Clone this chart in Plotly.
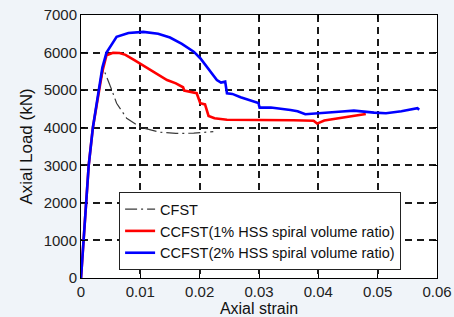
import plotly.graph_objects as go

# CFST
cfst_strain = [0, 0.0004, 0.0008, 0.0013, 0.002, 0.003, 0.0038, 0.0046, 0.0052, 0.006, 0.0077, 0.01, 0.0133, 0.016, 0.019, 0.0223]
cfst_load = [0, 1000, 2000, 3000, 4000, 5000, 5560, 5250, 5000, 4652, 4250, 4013, 3880, 3850, 3854, 3897]

# CCFST 1%
c1_strain = [0, 0.0004, 0.0008, 0.0013, 0.002, 0.003, 0.0036, 0.0043, 0.0054, 0.0065, 0.0075, 0.009, 0.01, 0.012,
             0.0145, 0.016, 0.0172, 0.0174, 0.0195, 0.0201, 0.0209, 0.0215, 0.0225, 0.0246, 0.0302, 0.0358, 0.0392,
             0.0398, 0.041, 0.044, 0.047, 0.048]
c1_load = [0, 1000, 2000, 3000, 4000, 5000, 5500, 5930, 5995, 5990, 5940, 5800, 5700, 5500,
           5270, 5180, 5077, 4990, 4918, 4652, 4620, 4314, 4250, 4210, 4215, 4200, 4185,
           4110, 4190, 4260, 4330, 4367]

# CCFST 2%
c2_strain = [0, 0.0004, 0.0008, 0.0013, 0.002, 0.003, 0.0036, 0.0043, 0.006, 0.008, 0.0105, 0.013, 0.015, 0.017,
             0.019, 0.0201, 0.0215, 0.0229, 0.0236, 0.0243, 0.0246, 0.0255, 0.0269, 0.0285, 0.0299, 0.0301, 0.032,
             0.0353, 0.0365, 0.0378, 0.04, 0.0415, 0.044, 0.046, 0.048, 0.0494, 0.0514, 0.054, 0.0567, 0.057]
c2_load = [0, 1000, 2000, 3000, 4000, 5000, 5600, 6000, 6420, 6520, 6550, 6500, 6400, 6230,
           6024, 5850, 5550, 5270, 5200, 5226, 4918, 4900, 4811, 4740, 4660, 4535, 4540,
           4473, 4440, 4360, 4380, 4412, 4430, 4455, 4420, 4402, 4386, 4440, 4519, 4480]

names = ["CFST", "CCFST(1% HSS spiral volume ratio)", "CCFST(2% HSS spiral volume ratio)"]
x_ticks = [0, 0.01, 0.02, 0.03, 0.04, 0.05, 0.06]
x_tick_labels = ["0", "0.01", "0.02", "0.03", "0.04", "0.05", "0.06"]
y_ticks = [0, 1000, 2000, 3000, 4000, 5000, 6000, 7000]

font = "Liberation Sans, Arial, sans-serif"

fig = go.Figure()
fig.add_trace(go.Scatter(x=cfst_strain, y=cfst_load, mode="lines", name=names[0],
                         line=dict(color="#3a3a3a", width=1.2, dash="12px,4px,2px,4px")))
fig.add_trace(go.Scatter(x=c1_strain, y=c1_load, mode="lines", name=names[1],
                         line=dict(color="#ff0000", width=2.6)))
fig.add_trace(go.Scatter(x=c2_strain, y=c2_load, mode="lines", name=names[2],
                         line=dict(color="#0000ff", width=2.6)))

axis_common = dict(showline=True, linecolor="black", linewidth=1, mirror="allticks",
                   ticks="inside", ticklen=4, tickcolor="black",
                   showgrid=True, gridcolor="#1a1a1a", gridwidth=2, griddash="7px,5px",
                   automargin=False,
                   zeroline=False, tickfont=dict(family=font, size=15, color="#222"))

fig.update_xaxes(range=[0, 0.06], tickvals=x_ticks, ticktext=x_tick_labels,
                 title=dict(text="Axial strain", font=dict(family=font, size=16, color="#111"), standoff=0),
                 **axis_common)
fig.update_yaxes(range=[0, 7000], tickvals=y_ticks,
                 title=dict(text="Axial Load (kN)", font=dict(family=font, size=17, color="#111"), standoff=6),
                 **axis_common)

fig.update_layout(
    width=454, height=317,
    margin=dict(l=81, r=17, t=15, b=39),
    paper_bgcolor="#f0f4f9", plot_bgcolor="white",
    font=dict(family=font, size=15, color="#111"),
    legend=dict(x=0.107, y=0.03, xanchor="left", yanchor="bottom",
                bgcolor="white", bordercolor="#222", borderwidth=1,
                font=dict(family=font, size=14.5, color="#111"),
                tracegroupgap=0, itemwidth=30),
    showlegend=True,
)

fig.write_html("out.html", config={"displayModeBar": False},
               post_script="document.body.style.margin='0';document.body.style.background='#f0f4f9';")
